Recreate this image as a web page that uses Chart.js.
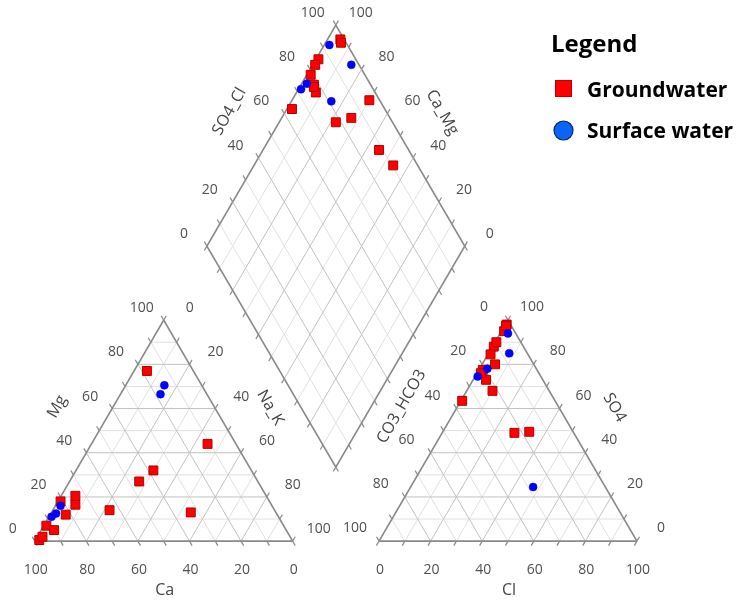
<!DOCTYPE html>
<html>
<head>
<title>Piper Diagram</title>
<script src="https://cdn.jsdelivr.net/npm/chart.js"></script>
<style>body{margin:0;background:#fff}</style>
</head>
<body>
<canvas id="piperChart" width="749" height="607"></canvas>
<script>
// groundwater samples (% meq/l)
const gwCa   = [18, 38, 46, 64, 11, 33, 81, 92, 98, 90, 76, 96, 74, 82];
const gwMg   = [77, 32, 27, 14, 44, 13, 18, 7, 0.5, 5, 16.5, 2, 20.5, 12];
const gwNaK  = [5, 30, 27, 22, 45, 54, 1, 1, 1.5, 5, 7.5, 2, 5.5, 6];
const gwHCO3 = [1.5, 4, 15, 22, 11.5, 9.5, 14.5, 17, 21, 22, 23, 36, 22.5, 2];
const gwSO4  = [98, 95, 80, 68, 88, 90, 84.5, 49.5, 77.5, 73, 49, 63.5, 76, 97.5];
const gwCl   = [0.5, 1, 5, 10, 0.5, 0.5, 1, 33.5, 1.5, 5, 28, 0.5, 1.5, 0.5];

// surface water samples
const swCa   = [14.5, 18, 82, 85.5, 88];
const swMg   = [70.5, 66.5, 16, 12.5, 11];
const swNaK  = [15, 15.5, 2, 2, 1];
const swHCO3 = [3, 19, 7, 24.5, 28];
const swSO4  = [94, 78, 85, 74.5, 24.5];
const swCl   = [3, 3, 8, 1, 47.5];

const tickValues = [0, 20, 40, 60, 80, 100];

// layout of the piper plot, triangle side = 100
const GAP = 33.5;
const S60 = Math.sqrt(3) / 2;
const RX = 100 + GAP;
const DBX = 100 + GAP / 2, DBY = GAP / 2 * Math.sqrt(3);

function cation(ca, mg, na) { return {x: na + mg / 2, y: mg * S60}; }
function anion(hco3, so4, cl) { return {x: RX + cl + so4 / 2, y: so4 * S60}; }
function diamond(s, cm) { return {x: DBX + (s - cm) / 2, y: DBY + (s + cm) * S60}; }

function samplePoints(ca, mg, na, hco3, so4, cl) {
    const pts = [];
    for (let i = 0; i < ca.length; i++) {
        pts.push(cation(ca[i], mg[i], na[i]));
        pts.push(anion(hco3[i], so4[i], cl[i]));
        pts.push(diamond(100 - hco3[i], 100 - na[i]));
    }
    return pts;
}

const UP_L = [-0.5, S60], UP_R = [0.5, S60];

const piperGrid = {
    id: 'piperGrid',
    beforeDatasetsDraw(chart) {
        const ctx = chart.ctx, xs = chart.scales.x, ys = chart.scales.y;
        const P = (ux, uy) => [xs.getPixelForValue(ux), ys.getPixelForValue(uy)];

        // line from start, along dir, with tick extensions at either end
        function family(start, dir, len, extA, extB, v) {
            const major = v % 20 === 0;
            const frame = v === 0;
            if (len > 0 && v !== 100 || frame) {
                const a = P(start.x, start.y), b = P(start.x + dir[0] * len, start.y + dir[1] * len);
                ctx.beginPath();
                ctx.strokeStyle = frame ? '#8a8a8a' : (major ? '#c2c2c2' : '#e0e0e0');
                ctx.lineWidth = frame ? 1.7 : 1;
                ctx.moveTo(a[0], a[1]); ctx.lineTo(b[0], b[1]); ctx.stroke();
            }
            ctx.strokeStyle = '#8a8a8a';
            ctx.lineWidth = 1.2;
            const t = 2;
            if (extA) {
                const a = P(start.x, start.y), b = P(start.x - dir[0] * t, start.y - dir[1] * t);
                ctx.beginPath(); ctx.moveTo(a[0], a[1]); ctx.lineTo(b[0], b[1]); ctx.stroke();
            }
            if (extB) {
                const ex = start.x + dir[0] * len, ey = start.y + dir[1] * len;
                const a = P(ex, ey), b = P(ex + dir[0] * t, ey + dir[1] * t);
                ctx.beginPath(); ctx.moveTo(a[0], a[1]); ctx.lineTo(b[0], b[1]); ctx.stroke();
            }
        }

        ctx.save();
        ctx.lineCap = 'butt';
        const order = [];
        for (let v = 90; v >= 0; v -= 10) order.push(v);
        order.unshift(100);
        // draw light lines first, frame last
        order.sort((a, b) => (a === 0) - (b === 0) || (a % 20 === 0) - (b % 20 === 0));
        order.forEach(v => {
            const L = 100 - v;
            // left triangle
            family(cation(100 - v, v, 0), [1, 0], L, false, false, v);       // Mg
            family(cation(v, 0, 100 - v), UP_L, L, true, true, v);           // Ca
            family(cation(100 - v, 0, v), UP_R, L, false, true, v);          // Na_K
            // right triangle
            family(anion(100 - v, v, 0), [1, 0], L, false, false, v);        // SO4
            family(anion(100 - v, 0, v), UP_R, L, true, true, v);            // Cl
            family(anion(v, 0, 100 - v), UP_L, L, false, true, v);           // CO3_HCO3
            // diamond
            family(diamond(v, 0), UP_L, 100, true, true, v === 100 ? 0 : v);
            family(diamond(0, v), UP_R, 100, true, true, v === 100 ? 0 : v);
        });

        // tick labels
        ctx.fillStyle = '#505050';
        ctx.font = '14px "Open Sans"';
        ctx.textAlign = 'center';
        ctx.textBaseline = 'middle';
        const label = (p, dx, dy, txt) => {
            const q = P(p.x, p.y);
            ctx.fillText(txt, q[0] + dx, q[1] + dy);
        };
        tickValues.forEach(v => {
            label(cation(v, 0, 100 - v), 1, 29, String(v));
            label(cation(100 - v, v, 0), -22, -12, String(v));
            label(cation(0, 100 - v, v), 26, -12, String(v));
            label(anion(100 - v, 0, v), 1, 29, String(v));
            label(anion(v, 100 - v, 0), -24, -13, String(v));
            label(anion(0, v, 100 - v), 24, -13, String(v));
            label(diamond(v, 100), -23, -12, String(v));
            label(diamond(100, v), 25, -12, String(v));
        });

        // axis titles
        ctx.fillStyle = '#444';
        ctx.font = '16px "Open Sans"';
        const title = (p, dx, dy, rot, txt) => {
            const q = P(p.x, p.y);
            ctx.save();
            ctx.translate(q[0] + dx, q[1] + dy);
            ctx.rotate(rot);
            ctx.fillText(txt, 0, 0);
            ctx.restore();
        };
        const R = Math.PI / 3;
        title(cation(50, 0, 50), 1, 49, 0, 'Ca');
        title(cation(50, 50, 0), -42, -24, -R, 'Mg');
        title(cation(0, 50, 50), 42, -23, R, 'Na_K');
        title(anion(50, 0, 50), 1, 49, 0, 'Cl');
        title(anion(50, 50, 0), -42, -24, -R, 'CO3_HCO3');
        title(anion(0, 50, 50), 42, -23, R, 'SO4');
        title(diamond(50, 100), -42, -24, -R, 'SO4_Cl');
        title(diamond(100, 50), 42, -23, R, 'Ca_Mg');
        ctx.restore();
    },
    afterDraw(chart) {
        const ctx = chart.ctx;
        ctx.save();
        ctx.fillStyle = '#000';
        ctx.textAlign = 'left';
        ctx.textBaseline = 'alphabetic';
        ctx.font = 'bold 24px "Open Sans"';
        ctx.fillText('Legend', 551, 52);
        ctx.font = 'bold 21px "Open Sans"';
        ctx.fillText('Groundwater', 587, 97);
        ctx.fillText('Surface water', 587, 138);
        ctx.fillStyle = '#ff0000';
        ctx.strokeStyle = '#c00000';
        ctx.lineWidth = 1;
        ctx.fillRect(555, 80, 17, 17);
        ctx.strokeRect(555.5, 80.5, 16, 16);
        ctx.beginPath();
        ctx.arc(563.5, 130.5, 9.5, 0, Math.PI * 2);
        ctx.fillStyle = '#0a64f5';
        ctx.fill();
        ctx.strokeStyle = '#0a2a6e';
        ctx.lineWidth = 1.2;
        ctx.stroke();
        ctx.restore();
    }
};

new Chart(document.getElementById('piperChart').getContext('2d'), {
    type: 'scatter',
    data: {
        datasets: [{
            label: 'Surface water',
            data: samplePoints(swCa, swMg, swNaK, swHCO3, swSO4, swCl),
            pointStyle: 'circle',
            pointRadius: 4,
            backgroundColor: '#0000ff',
            borderColor: '#0000e0',
            borderWidth: 0.5,
            order: 0
        }, {
            label: 'Groundwater',
            data: samplePoints(gwCa, gwMg, gwNaK, gwHCO3, gwSO4, gwCl),
            pointStyle: 'rect',
            pointRadius: 6.3,
            backgroundColor: '#ff0000',
            borderColor: '#b00000',
            borderWidth: 1,
            order: 1
        }]
    },
    options: {
        responsive: false,
        animation: false,
        devicePixelRatio: 1,
        layout: { padding: 0 },
        scales: {
            x: { type: 'linear', min: -10.65, max: 274.14, display: false },
            y: { type: 'linear', min: -22.94, max: 209.18, display: false }
        },
        plugins: {
            legend: { display: false },
            tooltip: { enabled: false }
        }
    },
    plugins: [piperGrid]
});
</script>
</body>
</html>
